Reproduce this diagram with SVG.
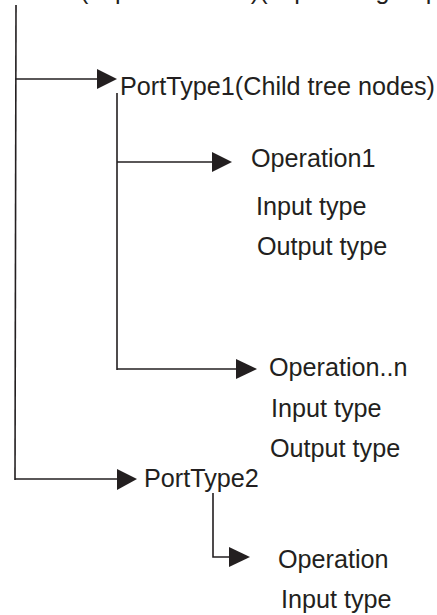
<svg xmlns="http://www.w3.org/2000/svg" width="437" height="615" viewBox="0 0 437 615">
<defs>
<style>
.ln{stroke:#231f20;stroke-width:1.6;fill:none}
.ah{fill:#231f20}
text{font-family:"Liberation Sans",Arial,sans-serif;font-size:25.2px;fill:#231f20}
</style>
</defs>
<rect width="437" height="615" fill="#ffffff"/>
<g id="connectors">
<path class="ln" d="M16,5 L15,480"/>
<path class="ln" d="M15,79 L98,79"/>
<polygon class="ah" points="97,69 117,79 97,89"/>
<path class="ln" d="M117,93 L117,370"/>
<path class="ln" d="M117,162 L213,162"/>
<polygon class="ah" points="212,152 232,162 212,172"/>
<path class="ln" d="M117,369 L237,369"/>
<polygon class="ah" points="236,359 257,369 236,379"/>
<path class="ln" d="M15,479 L118,479"/>
<polygon class="ah" points="117,469 137,479 117,490"/>
<path class="ln" d="M213,493 L213,557 L230,557"/>
<polygon class="ah" points="229,547 250,557 229,567"/>
</g>
<g id="root"><text x="-4" y="-1">Service(Top level node)(Top-level group)</text></g>
<g id="porttype1"><text x="120" y="95">PortType1(Child tree nodes)</text></g>
<g id="operation1">
<text x="251" y="167">Operation1</text>
<text x="256" y="215">Input type</text>
<text x="257" y="255">Output type</text>
</g>
<g id="operationn">
<text x="269" y="376">Operation..n</text>
<text x="271" y="417">Input type</text>
<text x="270" y="457">Output type</text>
</g>
<g id="porttype2"><text x="144" y="487">PortType2</text></g>
<g id="operation">
<text x="278" y="568">Operation</text>
<text x="281" y="608">Input type</text>
</g>
</svg>
